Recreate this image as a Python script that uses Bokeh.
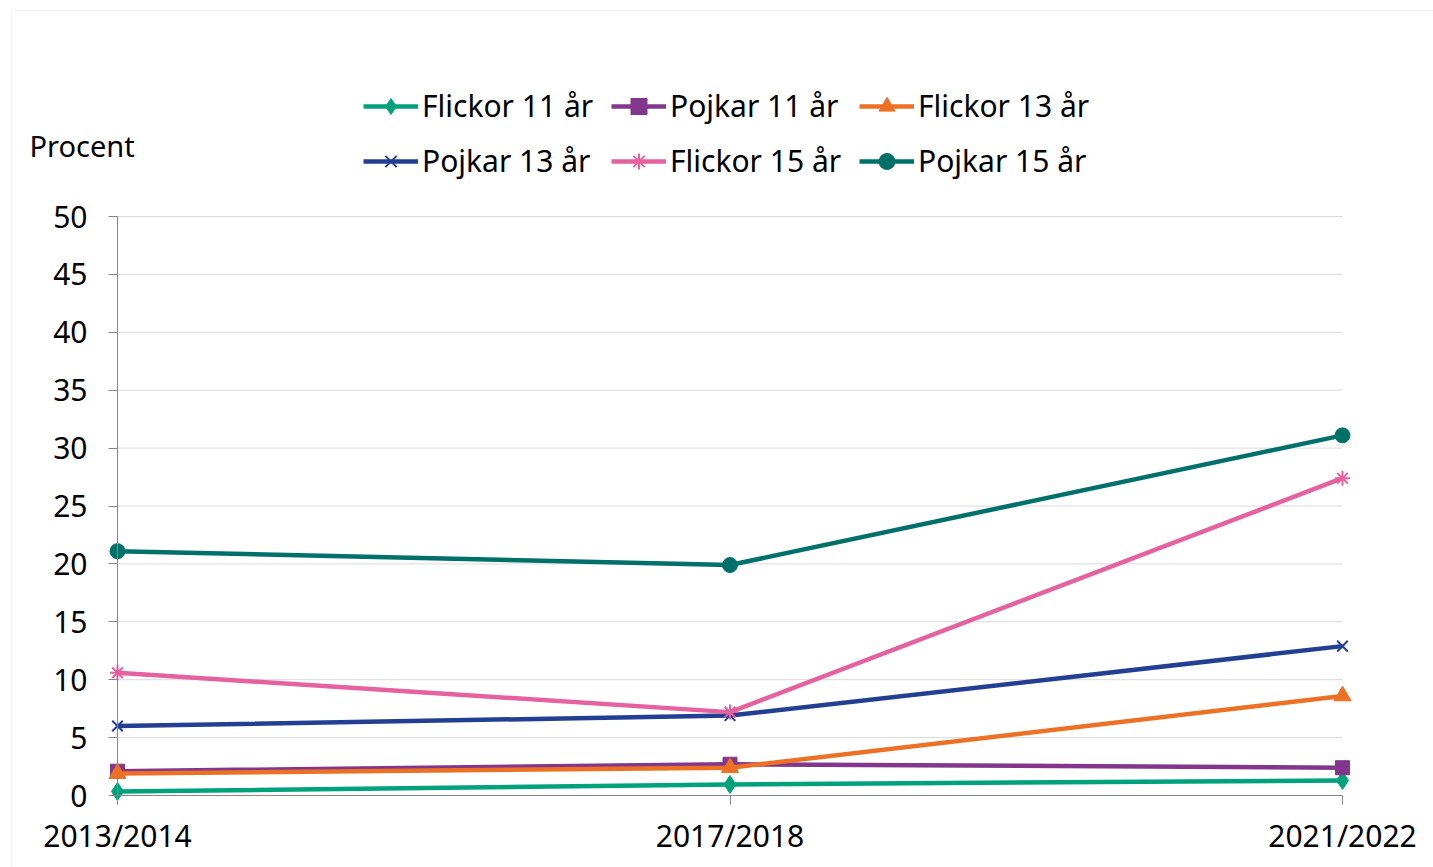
from bokeh.plotting import figure
from bokeh.models import Range1d, FixedTicker, Legend, LegendItem, Label, BoxAnnotation
from bokeh.embed import file_html
from bokeh.resources import INLINE

periods = ["2013/2014", "2017/2018", "2021/2022"]
flickor_11 = [0.35, 0.95, 1.3]
pojkar_11 = [2.1, 2.7, 2.4]
flickor_13 = [1.9, 2.4, 8.6]
pojkar_13 = [6.0, 6.9, 12.9]
flickor_15 = [10.6, 7.2, 27.4]
pojkar_15 = [21.1, 19.9, 31.1]
y_ticks = [0, 5, 10, 15, 20, 25, 30, 35, 40, 45, 50]

series = [
    ("Flickor 11 år", flickor_11, "#00a27c", "diamond", 18),
    ("Pojkar 11 år", pojkar_11, "#82368c", "square", 14),
    ("Flickor 13 år", flickor_13, "#ed7125", "triangle", 17),
    ("Pojkar 13 år", pojkar_13, "#223f93", "x", 15),
    ("Flickor 15 år", flickor_15, "#e5619f", "asterisk", 15),
    ("Pojkar 15 år", pojkar_15, "#00706a", "circle", 15),
]

FONT = "Noto Sans"
xs = list(range(len(periods)))

p = figure(
    frame_width=1433, frame_height=867,
    x_range=Range1d(-0.19102, 2.14857),
    y_range=Range1d(-6.2176, 68.653),
    output_backend="svg", toolbar_location=None,
    min_border_left=0, min_border_right=0,
    min_border_top=0, min_border_bottom=0,
)
p.outline_line_color = None
p.xgrid.visible = False
p.ygrid.visible = False

# outer chart border
p.add_layout(BoxAnnotation(left=11, right=1500, top=857, bottom=-50,
                           left_units="screen", right_units="screen",
                           top_units="screen", bottom_units="screen",
                           fill_alpha=0, line_color="#d0d0d0", line_width=1))

# gridlines
gy = y_ticks[1:]
p.segment(x0=[xs[0]] * len(gy), x1=[xs[-1]] * len(gy), y0=gy, y1=gy,
          line_color="#d9d9d9", line_width=1)

items = []
for name, vals, color, marker, size in series:
    lr = p.line(xs, vals, line_color=color, line_width=4.5)
    if marker in ("x", "asterisk"):
        sr = p.scatter(xs, vals, marker=marker, size=size, line_color=color,
                       line_width=2, fill_color=color)
    else:
        sr = p.scatter(xs, vals, marker=marker, size=size, line_color=color,
                       fill_color=color, line_width=1)
    items.append(LegendItem(label=name, renderers=[lr, sr]))

# axes
p.xaxis.fixed_location = 0
p.yaxis.fixed_location = 0
p.xaxis.bounds = (xs[0], xs[-1])
p.yaxis.bounds = (y_ticks[0], y_ticks[-1])
p.xaxis.ticker = FixedTicker(ticks=xs)
p.xaxis.major_label_overrides = {i: s for i, s in zip(xs, periods)}
p.yaxis.ticker = FixedTicker(ticks=y_ticks)
for ax in (p.xaxis, p.yaxis):
    ax.axis_line_color = "#868686"
    ax.major_tick_line_color = "#868686"
    ax.minor_tick_line_color = None
    ax.major_tick_in = 0
    ax.major_tick_out = 9
    ax.major_label_text_font = FONT
    ax.major_label_text_font_size = "30px"
    ax.major_label_text_color = "#000000"
p.yaxis.major_label_standoff = 21
p.xaxis.major_label_standoff = 10

legend = Legend(items=items, location=(363, 686), ncols=3, orientation="horizontal",
                glyph_width=55, glyph_height=40, label_height=30, label_width=175,
                label_standoff=4, spacing=14, padding=0, margin=0,
                label_text_font=FONT, label_text_font_size="30px",
                label_text_color="#000000",
                border_line_alpha=0, background_fill_alpha=0)
p.add_layout(legend, "center")

p.add_layout(Label(x=29, y=722, x_units="screen", y_units="screen", text="Procent",
                   text_font=FONT, text_font_size="29px", text_baseline="middle",
                   text_color="#000000"))

open("out.html", "w").write(file_html(p, INLINE))
